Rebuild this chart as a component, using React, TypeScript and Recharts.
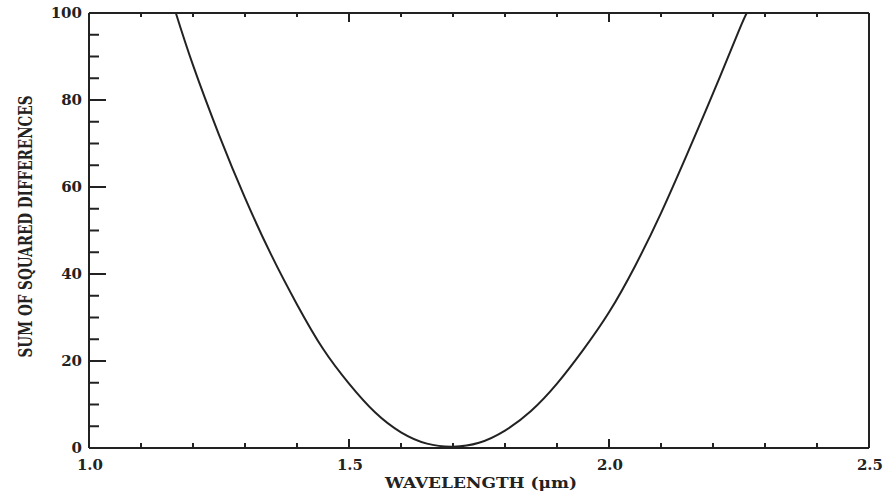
import React from "react";
import { LineChart, Line, XAxis, YAxis, Label } from "recharts";

// curve: wavelength (um) vs sum of squared differences
const wavelength = [1.167, 1.2, 1.25, 1.3, 1.35, 1.4, 1.45, 1.5, 1.55, 1.6, 1.65, 1.7, 1.75, 1.8, 1.85, 1.9, 1.95, 2.0, 2.05, 2.1, 2.15, 2.2, 2.25, 2.265];
const sumSquared = [100, 88, 72, 57.5, 44.5, 33, 22.8, 14.8, 8.2, 3.6, 1.0, 0.3, 1.2, 4, 8.5, 14.8, 22.5, 31.2, 41.8, 54, 67.5, 81.5, 96, 100];

const xTicks = [1.0, 1.1, 1.2, 1.3, 1.4, 1.5, 1.6, 1.7, 1.8, 1.9, 2.0, 2.1, 2.2, 2.3, 2.4, 2.5];
const xMajor = [1.0, 1.5, 2.0, 2.5];
const yTicks = [0, 5, 10, 15, 20, 25, 30, 35, 40, 45, 50, 55, 60, 65, 70, 75, 80, 85, 90, 95, 100];
const yMajor = [0, 20, 40, 60, 80, 100];

const data = wavelength.map((w, i) => ({ w, ssd: sumSquared[i] }));

const INK = "#222";
const TICK_FONT = { fontFamily: "DejaVu Serif", fontWeight: 700, fontSize: 15, fill: INK };

const BottomTick = (p: any) => {
  const major = xMajor.includes(p.payload.value);
  return (
    <g>
      <line x1={p.x} x2={p.x} y1={p.y} y2={p.y - (major ? 9 : 5)} stroke={INK} strokeWidth={2} />
      {major && (
        <text x={p.x + 1} y={p.y + 17} textAnchor="middle" dominantBaseline="central" {...TICK_FONT}>
          {p.payload.value.toFixed(1)}
        </text>
      )}
    </g>
  );
};

const TopTick = (p: any) => {
  const major = xMajor.includes(p.payload.value);
  return <line x1={p.x} x2={p.x} y1={p.y} y2={p.y + (major ? 9 : 4)} stroke={INK} strokeWidth={2} />;
};

const LeftTick = (p: any) => {
  const major = yMajor.includes(p.payload.value);
  return (
    <g>
      <line x1={p.x} x2={p.x + (major ? 17 : 10)} y1={p.y} y2={p.y} stroke={INK} strokeWidth={2} />
      {major && (
        <text x={p.x - 7} y={p.y} textAnchor="end" dominantBaseline="central" {...TICK_FONT}>
          {p.payload.value}
        </text>
      )}
    </g>
  );
};

const RightTick = (p: any) => {
  const major = yMajor.includes(p.payload.value);
  return <line x1={p.x} x2={p.x - (major ? 17 : 10)} y1={p.y} y2={p.y} stroke={INK} strokeWidth={2} />;
};

const XTitle = ({ viewBox }: any) => (
  <text
    x={viewBox.x + viewBox.width / 2 + 2}
    y={viewBox.y + 35}
    textAnchor="middle"
    dominantBaseline="central"
    textLength={192}
    lengthAdjust="spacingAndGlyphs"
    style={{ fontFamily: "DejaVu Serif", fontWeight: 700, fontSize: 14, fill: INK }}
  >
    WAVELENGTH (μm)
  </text>
);

const YTitle = ({ viewBox }: any) => {
  const cx = 25;
  const cy = viewBox.y + viewBox.height / 2 - 4;
  return (
    <text
      x={cx}
      y={cy}
      transform={`rotate(-90 ${cx} ${cy})`}
      textAnchor="middle"
      dominantBaseline="central"
      textLength={262}
      lengthAdjust="spacingAndGlyphs"
      style={{ fontFamily: "DejaVu Serif", fontWeight: 700, fontSize: 18, fill: INK }}
    >
      SUM OF SQUARED DIFFERENCES
    </text>
  );
};

export default function App() {
  return (
    <div style={{ position: "absolute", left: 0, top: 0, background: "#fff" }}>
      <LineChart width={888} height={493} data={data} margin={{ top: 0, right: 0, bottom: 0, left: 0 }}>
        <XAxis
          xAxisId="bottom"
          dataKey="w"
          type="number"
          domain={[1, 2.5]}
          ticks={xTicks}
          height={45}
          tickSize={0}
          tickMargin={0}
          tick={<BottomTick />}
          axisLine={{ stroke: INK, strokeWidth: 2 }}
          interval={0}
        >
          <Label content={<XTitle />} />
        </XAxis>
        <XAxis
          xAxisId="top"
          orientation="top"
          dataKey="w"
          type="number"
          domain={[1, 2.5]}
          ticks={xTicks}
          height={13}
          tickSize={0}
          tickMargin={0}
          tick={<TopTick />}
          axisLine={{ stroke: INK, strokeWidth: 2 }}
          interval={0}
        />
        <YAxis
          yAxisId="left"
          type="number"
          domain={[0, 100]}
          ticks={yTicks}
          width={89}
          tickSize={0}
          tickMargin={0}
          tick={<LeftTick />}
          axisLine={{ stroke: INK, strokeWidth: 2 }}
          interval={0}
        >
          <Label content={<YTitle />} />
        </YAxis>
        <YAxis
          yAxisId="right"
          orientation="right"
          type="number"
          domain={[0, 100]}
          ticks={yTicks}
          width={19}
          tickSize={0}
          tickMargin={0}
          tick={<RightTick />}
          axisLine={{ stroke: INK, strokeWidth: 2 }}
          interval={0}
        />
        <Line
          xAxisId="bottom"
          yAxisId="left"
          dataKey="ssd"
          type="natural"
          stroke={INK}
          strokeWidth={2}
          dot={false}
          isAnimationActive={false}
        />
      </LineChart>
    </div>
  );
}
